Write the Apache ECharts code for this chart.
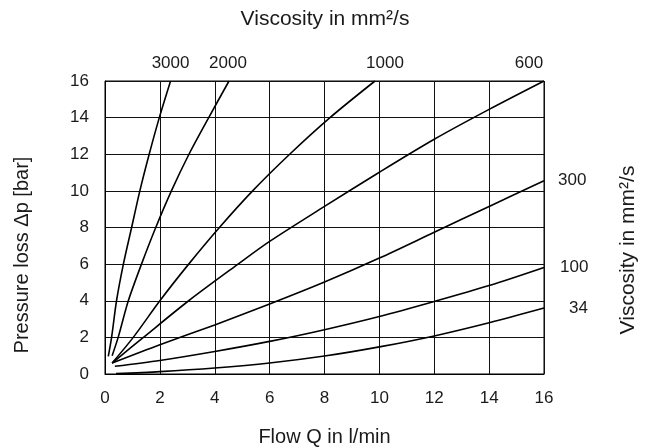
<!DOCTYPE html>
<html>
<head>
<meta charset="utf-8">
<script src="https://cdn.jsdelivr.net/npm/echarts@6/dist/echarts.min.js"></script>
<style>
html,body{margin:0;padding:0;background:#fff;}
#chart{width:650px;height:448px;}
</style>
</head>
<body>
<div id="chart"></div>
<script>
// ---- data ----
const xTickValues = [0, 2, 4, 6, 8, 10, 12, 14, 16];
const yTickValues = [0, 2, 4, 6, 8, 10, 12, 14, 16];
const viscosityNames = ['3000', '2000', '1000', '600', '300', '100', '34'];

const curve3000 = [[0.12,0.96],[0.24,2],[0.42,4],[0.67,6],[0.97,8],[1.27,10],[1.61,12],[1.98,14],[2.39,16]];
const curve2000 = [[0.26,1.0],[0.48,2],[0.85,4],[1.33,6],[1.85,8],[2.42,10],[3.06,12],[3.78,14],[4.52,16]];
const curve1000 = [[0.26,0.6],[1.03,2],[2.0,4],[3.05,6],[4.17,8],[5.38,10],[6.73,12],[8.2,14],[9.84,16]];
const curve600  = [[0.26,0.6],[1.4,2],[3.05,4],[4.85,6],[6,7.24],[8,9.15],[10,11.02],[12,12.82],[14,14.45],[16,16]];
const curve300  = [[0.26,0.6],[2,1.6],[4,2.68],[6,3.82],[8,5.02],[10,6.33],[12,7.74],[14,9.15],[16,10.55]];
const curve100  = [[0.36,0.42],[2,0.74],[4,1.23],[6,1.78],[8,2.42],[10,3.14],[12,3.96],[14,4.83],[16,5.82]];
const curve34   = [[0.4,0.02],[2,0.13],[4,0.33],[6,0.6],[8,0.98],[10,1.48],[12,2.08],[14,2.8],[16,3.6]];

const curves = [curve3000, curve2000, curve1000, curve600, curve300, curve100, curve34];

// ---- styling only ----
const FONT = '"Liberation Sans", Arial, Helvetica, sans-serif';
const INK = '#1a1a1a';
const labelPlacement = [
  {position: 'top', distance: 9, offset: [0, 0]},
  {position: 'top', distance: 9, offset: [-1, 0]},
  {position: 'top', distance: 9, offset: [10, 0]},
  {position: 'top', distance: 9, offset: [-15, 0]},
  {position: 'right', distance: 14, offset: [0, 0]},
  {position: 'right', distance: 16, offset: [0, 0]},
  {position: 'right', distance: 25, offset: [0, 0]}
];

const series = curves.map((pts, i) => ({
  type: 'line',
  name: viscosityNames[i],
  data: pts,
  smooth: 0.3,
  showSymbol: false,
  symbol: 'none',
  clip: true,
  lineStyle: {color: '#000', width: 1.6},
  markPoint: {
    symbol: 'circle',
    symbolSize: 0,
    silent: true,
    data: [{
      coord: pts[pts.length - 1],
      label: Object.assign({
        show: true,
        formatter: viscosityNames[i],
        color: INK,
        fontFamily: FONT,
        fontSize: 17
      }, labelPlacement[i])
    }]
  }
}));

const chart = echarts.init(document.getElementById('chart'), null, {renderer: 'canvas'});
chart.setOption({
  animation: false,
  backgroundColor: '#fff',
  title: {
    text: 'Viscosity in mm²/s',
    left: 'center',
    top: 4,
    textStyle: {fontFamily: FONT, fontSize: 21, fontWeight: 'normal', color: INK}
  },
  grid: {
    left: 105, right: 106, top: 81, bottom: 74,
    outerBoundsMode: 'none',
    containLabel: false,
    show: true, borderColor: '#000', borderWidth: 1
  },
  xAxis: {
    type: 'value',
    min: 0, max: 16, interval: 2,
    name: 'Flow Q in l/min',
    nameLocation: 'middle',
    nameGap: 53,
    nameTextStyle: {fontFamily: FONT, fontSize: 20, color: INK},
    axisLine: {show: true, lineStyle: {color: '#000', width: 1}},
    axisTick: {show: false},
    axisLabel: {
      margin: 16, fontFamily: FONT, fontSize: 17, color: INK,
      formatter: v => xTickValues.includes(v) ? String(v) : ''
    },
    splitLine: {show: true, lineStyle: {color: '#111', width: 1}}
  },
  yAxis: {
    type: 'value',
    min: 0, max: 16, interval: 2,
    axisLine: {show: true, lineStyle: {color: '#000', width: 1}},
    axisTick: {show: false},
    axisLabel: {
      margin: 16, fontFamily: FONT, fontSize: 17, color: INK,
      formatter: v => yTickValues.includes(v) ? String(v) : ''
    },
    splitLine: {show: true, lineStyle: {color: '#111', width: 1}}
  },
  graphic: [
    {
      type: 'text',
      x: 22, y: 255,
      rotation: Math.PI / 2,
      style: {
        text: 'Pressure loss Δp [bar]',
        fontFamily: FONT, fontSize: 20, fill: INK,
        align: 'center', verticalAlign: 'middle'
      }
    },
    {
      type: 'text',
      x: 628, y: 250,
      rotation: Math.PI / 2,
      style: {
        text: 'Viscosity in mm²/s',
        fontFamily: FONT, fontSize: 21, fill: INK,
        align: 'center', verticalAlign: 'middle'
      }
    }
  ],
  series: series
});
</script>
</body>
</html>
